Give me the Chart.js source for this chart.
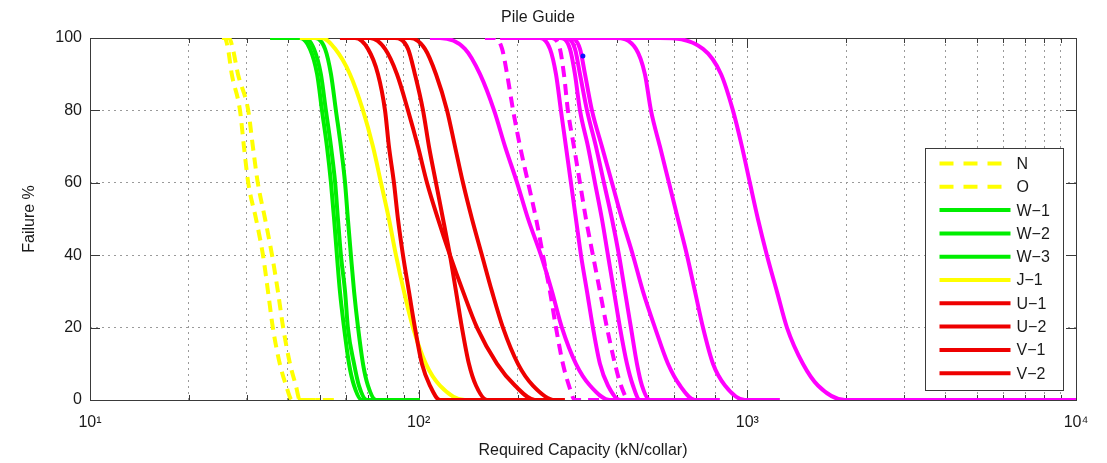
<!DOCTYPE html>
<html>
<head>
<meta charset="utf-8">
<title>Pile Guide</title>
<script src="https://cdn.jsdelivr.net/npm/chart.js@4.4.1/dist/chart.umd.min.js"></script>
<style>
  html, body { margin: 0; padding: 0; background: #fff; }
  #wrap { width: 1107px; height: 463px; }
</style>
</head>
<body>
<div id="wrap"><canvas id="pileChart" width="1107" height="463"></canvas></div>
<script>
// failure levels (%) shared by every curve: top shoulder ... bottom tail
const failLevels = [100, 100, 97, 90, 80, 70, 60, 50, 40, 30, 20, 10, 4, 0, 0];

// required capacity (kN/collar) at each failure level
const capN   = [25.2, 25.7, 26.3, 27.0, 28.6, 29.4, 30.3, 32.0, 33.6, 34.8, 36.0, 37.8, 39.5, 41.2, 50.1];
const capO   = [25.9, 26.5, 27.2, 28.2, 30.3, 31.3, 32.4, 34.1, 35.8, 37.3, 38.7, 40.6, 42.3, 43.5, 56.4];
const capW1  = [35.3, 43.5, 46.7, 49.1, 50.8, 52.6, 54.1, 55.3, 56.4, 57.6, 59.3, 61.4, 63.6, 67.2, 100.9];
const capW2  = [36.5, 45.1, 48.0, 50.4, 52.2, 54.1, 55.7, 56.8, 58.0, 59.7, 60.9, 63.6, 65.8, 69.6, 100.9];
const capW3  = [37.8, 48.4, 51.9, 54.1, 56.0, 58.0, 59.7, 60.9, 62.2, 63.6, 65.4, 67.7, 70.1, 74.2, 100.9];
const capJ1  = [43.5, 50.8, 55.7, 61.8, 67.7, 72.6, 76.8, 81.2, 85.3, 90.2, 96.1, 105.2, 116.1, 138.3, 153.7];
const capU1  = [57.6, 64.0, 70.1, 75.2, 79.0, 81.2, 84.1, 86.5, 89.6, 93.4, 97.4, 102.3, 108.2, 116.1, 269];
const capU2  = [59.7, 71.1, 79.0, 85.9, 92.8, 99.5, 106.0, 114.5, 124.5, 136.4, 150.5, 173.2, 196.3, 225.9, 269];
const capV1  = [61.8, 84.7, 92.8, 97.4, 103.1, 107.5, 112.9, 118.6, 124.5, 129.9, 135.4, 142.2, 149.4, 161.4, 269];
const capV2  = [64.0, 94.1, 104.5, 112.9, 122.0, 129.0, 136.4, 145.3, 155.8, 167.1, 180.5, 200.5, 222.7, 259.8, 278.6];

// magenta curves (not in the legend)
const capM1  = [108.2, 116.1, 138.3, 153.7, 169.6, 183.2, 199.3, 215.3, 235.5, 254.4, 272.8, 301.0, 332.0, 382.0, 505.5];
const capM2  = [159.1, 170.7, 179.4, 185.8, 193.8, 203.5, 215.3, 227.7, 238.9, 250.9, 261.7, 274.7, 286.6, 298.9, 356.1];
const capM3  = [176.9, 233.9, 250.9, 261.7, 270.9, 280.6, 290.6, 301.0, 311.8, 325.2, 339.0, 356.1, 376.6, 409.7, 542.2];
const capM4  = [218.3, 254.4, 269.0, 276.7, 284.5, 296.8, 309.6, 322.9, 339.0, 356.1, 374.0, 395.6, 412.6, 436.4, 471.3];
const capM5  = [203.5, 269.0, 288.6, 298.9, 309.6, 327.5, 343.9, 361.1, 376.6, 392.9, 409.7, 430.3, 448.7, 471.3, 623.8];
const capM6  = [218.3, 278.6, 298.9, 309.6, 325.2, 346.3, 366.2, 387.4, 406.9, 424.3, 442.5, 461.5, 478.0, 505.5, 669.1];
const capM7  = [233.9, 288.6, 309.6, 320.7, 336.7, 361.1, 387.4, 415.5, 448.7, 481.3, 523.5, 573.5, 623.8, 693.0, 825];
const capM8  = [269.0, 395.6, 458.3, 488, 509, 542.2, 577.5, 615.1, 655.3, 693.0, 732.9, 786.2, 855, 983, 1256];
const capM9  = [356.1, 542.2, 732.9, 832, 904, 963, 1018, 1077, 1147, 1230, 1320, 1476, 1640, 1982, 10000];

// the single blue marker near the top of the magenta bundle
const blueDotX = [316];
const blueDotY = [95];

const legendNames = ['N', 'O', 'W−1', 'W−2', 'W−3', 'J−1', 'U−1', 'U−2', 'V−1', 'V−2'];
const xTickValues = [10, 20, 30, 40, 50, 60, 70, 80, 90,
                     100, 200, 300, 400, 500, 600, 700, 800, 900,
                     1000, 2000, 3000, 4000, 5000, 6000, 7000, 8000, 9000, 10000];
const decadeValues = [10, 100, 1000, 10000];
const decadeLabels = ['10¹', '10²', '10³', '10⁴'];
const yTickValues = [0, 20, 40, 60, 80, 100];

const YEL = '#ffff00', GRN = '#00ee00', RED = '#ee0000', MAG = '#ff00ff';
const FONT = '"Liberation Sans", Arial, sans-serif';

const series = [
  { name: legendNames[0], xs: capN,  color: YEL, dashed: true },
  { name: legendNames[1], xs: capO,  color: YEL, dashed: true },
  { name: legendNames[2], xs: capW1, color: GRN },
  { name: legendNames[3], xs: capW2, color: GRN },
  { name: legendNames[4], xs: capW3, color: GRN },
  { name: legendNames[5], xs: capJ1, color: YEL },
  { name: legendNames[6], xs: capU1, color: RED },
  { name: legendNames[7], xs: capU2, color: RED },
  { name: legendNames[8], xs: capV1, color: RED },
  { name: legendNames[9], xs: capV2, color: RED },
  { xs: capM1, color: MAG },
  { xs: capM2, color: MAG, dashed: true },
  { xs: capM3, color: MAG },
  { xs: capM4, color: MAG, dashed: true },
  { xs: capM5, color: MAG },
  { xs: capM6, color: MAG },
  { xs: capM7, color: MAG },
  { xs: capM8, color: MAG },
  { xs: capM9, color: MAG }
];

const datasets = series.map((s, i) => ({
  label: s.name || '',
  data: s.xs.map((x, j) => ({ x: x, y: failLevels[j] })),
  borderColor: s.color,
  backgroundColor: s.color,
  borderWidth: 4,
  borderDash: s.dashed ? [11, 7] : [],
  pointRadius: 0,
  fill: false,
  cubicInterpolationMode: 'monotone',
  order: -i
}));

datasets.push({
  label: '',
  data: blueDotX.map((x, j) => ({ x: x, y: blueDotY[j] })),
  showLine: false,
  pointRadius: 2.5,
  pointBackgroundColor: '#1010ff',
  pointBorderWidth: 0,
  order: -100
});

// MATLAB-like box, inward ticks and the legend inside the axes
const matlabBits = {
  id: 'matlabBits',
  beforeDatasetsDraw(chart) {
    const { ctx, chartArea: a, scales } = chart;
    ctx.save();
    ctx.strokeStyle = '#3a3a3a';
    ctx.lineWidth = 1;
    ctx.beginPath();
    scales.x.ticks.forEach(t => {
      if (t.value <= 10 || t.value >= 10000) return;
      const px = Math.round(scales.x.getPixelForValue(t.value)) + 0.5;
      const len = decadeValues.includes(t.value) ? 10 : 5;
      ctx.moveTo(px, a.bottom); ctx.lineTo(px, a.bottom - len);
      ctx.moveTo(px, a.top); ctx.lineTo(px, a.top + len);
    });
    scales.y.ticks.forEach(t => {
      if (t.value <= 0 || t.value >= 100) return;
      const py = Math.round(scales.y.getPixelForValue(t.value)) + 0.5;
      ctx.moveTo(a.left, py); ctx.lineTo(a.left + 10, py);
      ctx.moveTo(a.right, py); ctx.lineTo(a.right - 10, py);
    });
    ctx.stroke();
    ctx.strokeRect(Math.round(a.left) + 0.5, Math.round(a.top) + 0.5,
                   Math.round(a.width), Math.round(a.height));
    ctx.restore();
  },
  afterDatasetsDraw(chart) {
    const { ctx, chartArea: a } = chart;
    const lx = Math.round(a.right - 151) + 0.5, ly = Math.round(a.top + 110) + 0.5;
    const lw = 138, lh = 242, rowH = 23.3;
    ctx.save();
    ctx.fillStyle = '#fff';
    ctx.fillRect(lx, ly, lw, lh);
    ctx.strokeStyle = '#3a3a3a';
    ctx.lineWidth = 1;
    ctx.strokeRect(lx, ly, lw, lh);
    ctx.font = '16px ' + FONT;
    ctx.textBaseline = 'middle';
    series.filter(s => s.name).forEach((s, i) => {
      const y = ly + 15 + i * rowH;
      ctx.strokeStyle = s.color;
      ctx.lineWidth = 4;
      ctx.setLineDash(s.dashed ? [14, 10] : []);
      ctx.beginPath();
      ctx.moveTo(lx + 14, y); ctx.lineTo(lx + 85, y);
      ctx.stroke();
      ctx.setLineDash([]);
      ctx.fillStyle = '#1a1a1a';
      ctx.fillText(s.name, lx + 91, y + 1);
    });
    ctx.restore();
  }
};

new Chart(document.getElementById('pileChart'), {
  type: 'line',
  data: { datasets: datasets },
  plugins: [matlabBits],
  options: {
    responsive: false,
    animation: false,
    devicePixelRatio: 1,
    layout: { padding: { top: 0, right: 31, bottom: 0, left: 0 } },
    plugins: {
      legend: { display: false },
      tooltip: { enabled: false },
      title: {
        display: true,
        text: 'Pile Guide',
        color: '#1a1a1a',
        font: { family: FONT, size: 16, weight: 'normal' },
        padding: { top: 8, bottom: 10.8 }
      }
    },
    scales: {
      x: {
        type: 'logarithmic',
        min: 10,
        max: 10000,
        afterBuildTicks: axis => {
          axis.ticks = xTickValues.map(v => ({ value: v }));
        },
        afterFit: axis => { axis.height = 63; },
        ticks: {
          autoSkip: false,
          maxRotation: 0,
          padding: 13,
          color: '#1a1a1a',
          font: { family: FONT, size: 16 },
          callback: v => {
            const k = decadeValues.indexOf(v);
            return k >= 0 ? decadeLabels[k] : '';
          }
        },
        grid: { color: '#9a9a9a', lineWidth: 1, drawTicks: false },
        border: { display: false, dash: [2, 4] },
        title: {
          display: true,
          text: 'Required Capacity (kN/collar)',
          color: '#1a1a1a',
          font: { family: FONT, size: 16 },
          padding: { top: 0, bottom: 3 }
        }
      },
      y: {
        min: 0,
        max: 100,
        afterBuildTicks: axis => {
          axis.ticks = yTickValues.map(v => ({ value: v }));
        },
        afterFit: axis => { axis.width = 90; },
        ticks: {
          padding: 8,
          color: '#1a1a1a',
          font: { family: FONT, size: 16 }
        },
        grid: { color: '#9a9a9a', lineWidth: 1, drawTicks: false },
        border: { display: false, dash: [2, 4] },
        title: {
          display: true,
          text: 'Failure %',
          color: '#1a1a1a',
          font: { family: FONT, size: 16 },
          padding: { top: 20, bottom: 0 }
        }
      }
    }
  }
});
</script>
</body>
</html>
